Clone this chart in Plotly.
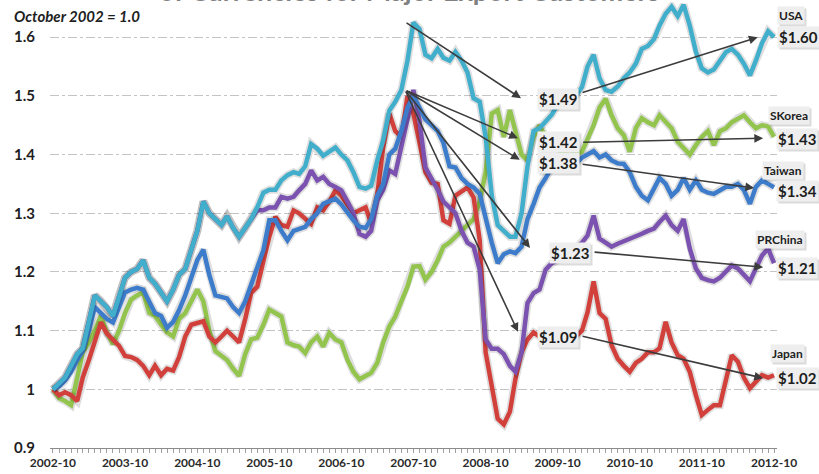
import pandas as pd
import plotly.graph_objects as go

# monthly index values, October 2002 = 1.0 (2002-10 .. 2012-10)
usa = [1.00, 1.01, 1.02, 1.04, 1.06, 1.07, 1.12, 1.16, 1.15, 1.14,
       1.125, 1.16, 1.19, 1.20, 1.205, 1.22, 1.19, 1.18, 1.165, 1.15,
       1.17, 1.195, 1.205, 1.24, 1.27, 1.32, 1.30, 1.29, 1.28, 1.295,
       1.275, 1.26, 1.275, 1.29, 1.31, 1.335, 1.34, 1.34, 1.356, 1.365,
       1.37, 1.367, 1.38, 1.418, 1.41, 1.398, 1.405, 1.412, 1.40, 1.39,
       1.37, 1.345, 1.342, 1.347, 1.39, 1.424, 1.475, 1.49, 1.51, 1.56,
       1.625, 1.614, 1.57, 1.564, 1.58, 1.565, 1.56, 1.575, 1.56, 1.54,
       1.496, 1.49, 1.43, 1.33, 1.28, 1.27, 1.26, 1.26, 1.30, 1.38,
       1.44, 1.445, 1.457, 1.468, 1.485, 1.49, 1.49, 1.50, 1.515, 1.55,
       1.57, 1.53, 1.51, 1.507, 1.516, 1.53, 1.54, 1.555, 1.58, 1.585,
       1.597, 1.62, 1.64, 1.652, 1.636, 1.655, 1.62, 1.575, 1.547, 1.54,
       1.545, 1.56, 1.575, 1.58, 1.57, 1.555, 1.535, 1.56, 1.59, 1.61, 1.60]

taiwan = [1.00, 1.005, 1.015, 1.03, 1.05, 1.065, 1.10, 1.14, 1.13, 1.12,
          1.114, 1.14, 1.165, 1.17, 1.173, 1.17, 1.15, 1.13, 1.125, 1.105,
          1.115, 1.135, 1.16, 1.19, 1.22, 1.238, 1.195, 1.16, 1.158, 1.155,
          1.14, 1.13, 1.15, 1.18, 1.21, 1.237, 1.288, 1.288, 1.27, 1.254,
          1.27, 1.274, 1.277, 1.29, 1.30, 1.316, 1.32, 1.325, 1.315, 1.30,
          1.288, 1.277, 1.275, 1.29, 1.33, 1.35, 1.40, 1.41, 1.44, 1.48,
          1.50, 1.48, 1.46, 1.45, 1.44, 1.42, 1.38, 1.378, 1.36, 1.35,
          1.344, 1.333, 1.288, 1.25, 1.215, 1.23, 1.235, 1.232, 1.243, 1.29,
          1.316, 1.344, 1.36, 1.378, 1.384, 1.385, 1.388, 1.385, 1.395, 1.40,
          1.406, 1.395, 1.40, 1.39, 1.385, 1.384, 1.37, 1.345, 1.33, 1.322,
          1.34, 1.36, 1.35, 1.33, 1.34, 1.36, 1.34, 1.356, 1.34, 1.335,
          1.333, 1.34, 1.345, 1.345, 1.35, 1.34, 1.316, 1.345, 1.356, 1.35, 1.344]

skorea = [1.00, 0.985, 0.98, 0.973, 1.02, 1.063, 1.08, 1.10, 1.125, 1.097,
          1.077, 1.10, 1.13, 1.153, 1.16, 1.165, 1.13, 1.125, 1.11, 1.097,
          1.09, 1.12, 1.13, 1.15, 1.17, 1.15, 1.10, 1.065, 1.058, 1.05,
          1.035, 1.023, 1.06, 1.085, 1.088, 1.11, 1.136, 1.13, 1.124, 1.08,
          1.075, 1.073, 1.062, 1.08, 1.09, 1.073, 1.096, 1.085, 1.08, 1.05,
          1.03, 1.017, 1.022, 1.028, 1.045, 1.08, 1.107, 1.124, 1.15, 1.175,
          1.209, 1.21, 1.187, 1.20, 1.22, 1.243, 1.25, 1.26, 1.27, 1.28,
          1.29, 1.32, 1.37, 1.47, 1.476, 1.43, 1.476, 1.44, 1.40, 1.39,
          1.43, 1.45, 1.43, 1.42, 1.41, 1.40, 1.41, 1.40, 1.405, 1.427,
          1.45, 1.48, 1.495, 1.467, 1.445, 1.433, 1.405, 1.445, 1.462, 1.455,
          1.45, 1.467, 1.455, 1.445, 1.422, 1.41, 1.40, 1.416, 1.43, 1.44,
          1.416, 1.44, 1.445, 1.455, 1.462, 1.467, 1.455, 1.445, 1.45, 1.448, 1.43]

prchina = [1.00, 1.01, 1.02, 1.04, 1.06, 1.07, 1.12, 1.16, 1.15, 1.14,
           1.125, 1.16, 1.19, 1.20, 1.205, 1.22, 1.19, 1.18, 1.165, 1.15,
           1.17, 1.195, 1.205, 1.24, 1.27, 1.32, 1.30, 1.29, 1.28, 1.295,
           1.275, 1.26, 1.275, 1.29, 1.305, 1.305, 1.31, 1.31, 1.328, 1.325,
           1.328, 1.339, 1.35, 1.373, 1.356, 1.362, 1.35, 1.345, 1.339, 1.32,
           1.30, 1.265, 1.26, 1.27, 1.322, 1.34, 1.373, 1.367, 1.41, 1.46,
           1.51, 1.457, 1.378, 1.36, 1.34, 1.32, 1.31, 1.30, 1.27, 1.25,
           1.243, 1.204, 1.085, 1.069, 1.069, 1.06, 1.04, 1.03, 1.063, 1.147,
           1.164, 1.17, 1.204, 1.215, 1.22, 1.225, 1.232, 1.24, 1.25, 1.262,
           1.296, 1.257, 1.25, 1.243, 1.248, 1.252, 1.256, 1.26, 1.265, 1.27,
           1.274, 1.285, 1.296, 1.28, 1.27, 1.29, 1.24, 1.206, 1.19, 1.186,
           1.184, 1.19, 1.20, 1.211, 1.206, 1.195, 1.184, 1.206, 1.228, 1.24, 1.215]

japan = [1.00, 0.99, 0.995, 0.99, 0.98, 1.02, 1.05, 1.08, 1.114, 1.095,
         1.085, 1.074, 1.057, 1.055, 1.05, 1.04, 1.024, 1.04, 1.024, 1.035,
         1.032, 1.055, 1.09, 1.11, 1.113, 1.116, 1.09, 1.08, 1.09, 1.10,
         1.09, 1.08, 1.12, 1.164, 1.175, 1.22, 1.26, 1.294, 1.28, 1.277,
         1.305, 1.30, 1.29, 1.282, 1.31, 1.305, 1.32, 1.339, 1.33, 1.315,
         1.30, 1.305, 1.31, 1.282, 1.333, 1.412, 1.47, 1.44, 1.43, 1.50,
         1.47, 1.42, 1.37, 1.352, 1.35, 1.288, 1.282, 1.33, 1.338, 1.344,
         1.327, 1.254, 1.063, 1.007, 0.95, 0.94, 0.962, 1.018, 1.063, 1.085,
         1.097, 1.09, 1.085, 1.09, 1.09, 1.085, 1.09, 1.09, 1.10, 1.131,
         1.184, 1.13, 1.12, 1.075, 1.052, 1.04, 1.03, 1.045, 1.052, 1.063,
         1.063, 1.07, 1.115, 1.08, 1.058, 1.052, 1.03, 0.99, 0.956, 0.965,
         0.973, 0.973, 1.019, 1.058, 1.047, 1.02, 1.002, 1.013, 1.024, 1.02, 1.024]

dates = pd.date_range('2002-10-01', periods=121, freq='MS')
tick_years = list(range(2002, 2013))

# series drawn bottom -> top
series = [
    ('SKorea', skorea, '#93C44E'),
    ('Japan', japan, '#D2403C'),
    ('PRChina', prchina, '#7B52B0'),
    ('Taiwan', taiwan, '#3D7CCB'),
    ('USA', usa, '#41AECB'),
]

# plot area in pixels
L, R, T, B = 50, 777, 2, 448
FONT = 'Lato'


def paper(x, y):
    return (x - L) / (R - L), (B - y) / (B - T)


def mdate(m):
    return dates[0] + pd.Timedelta(days=m * 30.4375)


fig = go.Figure()
for name, vals, col in series:
    fig.add_trace(go.Scatter(x=dates, y=vals, mode='lines', hoverinfo='skip',
                             line=dict(color='rgba(0,0,0,0.13)', width=8)))
    fig.add_trace(go.Scatter(x=dates, y=vals, mode='lines', name=name,
                             line=dict(color=col, width=4.5)))

annotations = []

# arrows: (tail month, tail value, head month, head value)
arrows = [
    (58.6, 1.626, 77.9, 1.496),
    (58.6, 1.51, 77.4, 1.428),
    (58.6, 1.51, 77.7, 1.391),
    (58.6, 1.51, 79.4, 1.241),
    (58.6, 1.51, 77.4, 1.098),
    (87.9, 1.505, 117.3, 1.60),
    (88.0, 1.421, 118.2, 1.428),
    (87.9, 1.384, 116.7, 1.343),
    (89.9, 1.234, 118.2, 1.208),
    (87.9, 1.091, 118.2, 1.019),
]
for tm, tv, hm, hv in arrows:
    annotations.append(dict(x=mdate(hm), y=hv, ax=mdate(tm), ay=tv,
                            xref='x', yref='y', axref='x', ayref='y',
                            text='', showarrow=True, arrowhead=2,
                            arrowsize=1.1, arrowwidth=1.6,
                            arrowcolor='#3c3c3c', standoff=0))

# value / name labels: (text, centre x px, centre y px, size)
labels = [
    ('$1.49', 558, 99, 15), ('$1.42', 558, 142, 15), ('$1.38', 558, 163, 15),
    ('$1.23', 570, 253, 15), ('$1.09', 558, 337, 15),
    ('USA', 791, 16, 12), ('$1.60', 798, 37, 15),
    ('SKorea', 789, 116, 12), ('$1.43', 797, 139, 15),
    ('Taiwan', 783, 170, 12), ('$1.34', 797, 191, 15),
    ('PRChina', 780, 239, 12), ('$1.21', 797, 268, 15),
    ('Japan', 787, 353, 12), ('$1.02', 797, 378, 15),
]
for text, cx, cy, size in labels:
    sx, sy = paper(cx + 2, cy + 2)
    annotations.append(dict(x=sx, y=sy, xref='paper', yref='paper',
                            xanchor='center', yanchor='middle',
                            text=text, showarrow=False,
                            font=dict(family=FONT, size=size, weight='bold',
                                      color='rgba(0,0,0,0)'),
                            bgcolor='rgba(0,0,0,0.14)', borderpad=1))
    px_, py_ = paper(cx, cy)
    annotations.append(dict(x=px_, y=py_, xref='paper', yref='paper',
                            xanchor='center', yanchor='middle',
                            text=text, showarrow=False,
                            font=dict(family=FONT, size=size, weight='bold',
                                      color='#1e1e1e'),
                            bgcolor='#EEEEEE', borderpad=1))

tx, ty = paper(409, 9)
annotations.append(dict(x=tx, y=ty, xref='paper', yref='paper',
                        xanchor='center', yanchor='bottom',
                        text='of Currencies for Major Export Customers',
                        showarrow=False,
                        font=dict(family=FONT, size=27, weight='bold', color='#808080')))
nx, ny = paper(12, 16)
annotations.append(dict(x=nx, y=ny, xref='paper', yref='paper',
                        xanchor='left', yanchor='middle',
                        text='October 2002 = 1.0', showarrow=False,
                        font=dict(family=FONT, size=15, weight='bold',
                                  style='italic', color='#1e1e1e')))

fig.update_layout(
    width=819, height=474,
    margin=dict(l=L, r=819 - R, t=T, b=474 - B),
    paper_bgcolor='white', plot_bgcolor='white',
    showlegend=False,
    annotations=annotations,
    xaxis=dict(type='date', range=['2002-09-16', '2012-10-16'],
               tickvals=[f'{y}-10-01' for y in tick_years],
               ticktext=[f'{y}-10' for y in tick_years],
               tickfont=dict(family=FONT, size=12, weight='bold', color='#2a2a2a'),
               showgrid=False, zeroline=False,
               showline=True, linecolor='#8c8c8c', linewidth=1,
               ticks='outside', ticklen=4, tickcolor='#a0a0a0',
               minor=dict(ticks='outside', ticklen=4, dtick='M1',
                          tick0='2002-10-01', tickcolor='#a0a0a0', showgrid=False)),
    yaxis=dict(range=[0.9, 1.66], tick0=0.9, dtick=0.1,
               tickfont=dict(family=FONT, size=15, weight='bold', color='#1e1e1e'),
               showgrid=True, gridcolor='#c4c4c4', griddash='dashdot', gridwidth=1,
               zeroline=False, showline=False, ticklabelstandoff=14),
)

fig.write_html("out.html", config={'displayModeBar': False},
               post_script="document.body.style.margin='0';")
